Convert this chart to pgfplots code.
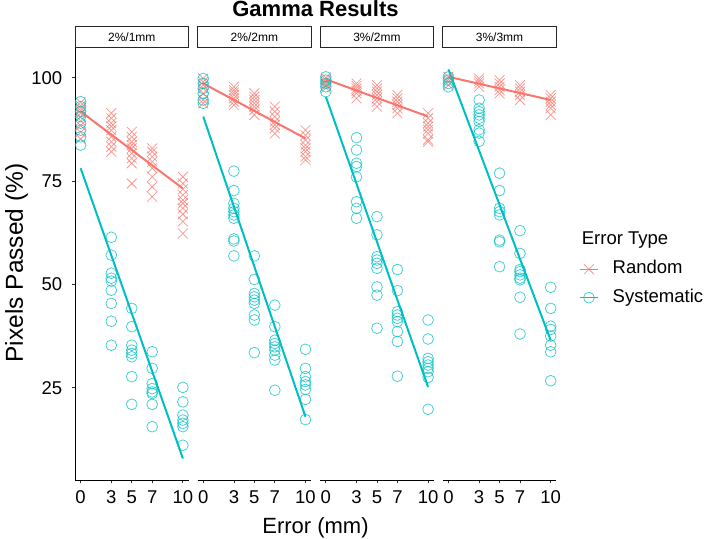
\documentclass[border=0pt]{standalone}
\usepackage{pgfplots}
\pgfplotsset{compat=1.18}
\usepackage{fontspec}
\setmainfont{Liberation Sans}
\definecolor{rcol}{HTML}{F8766D}
\definecolor{scol}{HTML}{00BFC4}
\pgfplotsset{
  panel/.style={
    width=113.5pt, height=431.7pt, scale only axis,
    xmin=-0.55, xmax=10.55, ymin=2.7, ymax=107.1,
    axis x line*=bottom,
    axis line style={-, line width=0.9pt, black},
    xtick={0,3,5,7,10},
    tick align=outside, major tick length=3.3pt,
    tick style={line width=0.8pt, black!80},
    ticklabel style={font=\fontsize{18.5}{20}\selectfont, text=black},
    xticklabel style={yshift=-4pt},
    yticklabel style={xshift=-6pt},
    /pgf/number format/assume math mode=true,
    clip=false,
  },
  rmark/.style={only marks, mark=x, mark size=7pt, color=rcol, mark options={line width=0.75pt, draw opacity=0.75}},
  smark/.style={only marks, mark=o, mark size=5.4pt, color=scol, mark options={line width=0.75pt, draw opacity=0.75}},
  rline/.style={no marks, color=rcol, line width=2pt},
  sline/.style={no marks, color=scol, line width=2pt},
}
\tikzset{
  strip/.style={draw=black!85, line width=0.9pt, fill=white, minimum width=113.5pt, minimum height=21.6pt, inner sep=0pt, anchor=south, font=\fontsize{12}{14}\selectfont},
}
\begin{document}
\begin{tikzpicture}
\useasboundingbox (0,0) rectangle (709pt,538pt);

% ---------- panel 1: 2%/1mm ----------
\begin{axis}[panel, at={(75pt,58pt)}, anchor=south west,
  axis y line*=left, ytick={25,50,75,100}]
\addplot[rmark] coordinates {
 (0,94.0) (0,93.2) (0,92.6) (0,92.0) (0,91.4) (0,90.6) (0,89.6) (0,88.4) (0,86.8) (0,85.2)
 (3,91.4) (3,90.2) (3,89.0) (3,88.2) (3,87.3) (3,85.7) (3,84.5) (3,83.3) (3,82.1)
 (5,86.9) (5,85.7) (5,84.5) (5,83.7) (5,82.9) (5,81.7) (5,80.5) (5,79.3) (5,74.4)
 (7,82.9) (7,82.1) (7,80.9) (7,79.7) (7,78.1) (7,76.0) (7,73.6) (7,71.2)
 (10,76.0) (10,74.4) (10,73.0) (10,71.6) (10,70.4) (10,69.6) (10,68.4) (10,67.0) (10,65.2) (10,62.3)};
\addplot[smark] coordinates {
 (0,94.2) (0,93.0) (0,91.8) (0,90.6) (0,89.0) (0,87.3) (0,85.7) (0,83.7)
 (3,61.4) (3,57.1) (3,52.7) (3,51.5) (3,50.8) (3,48.6) (3,45.4) (3,41.1) (3,35.3)
 (5,44.2) (5,39.8) (5,35.3) (5,34.1) (5,33.3) (5,32.5) (5,27.7) (5,21.0)
 (7,33.7) (7,29.7) (7,26.0) (7,24.8) (7,24.0) (7,23.6) (7,21.0) (7,15.6)
 (10,25.1) (10,21.6) (10,18.4) (10,17.2) (10,16.4) (10,15.6) (10,11.1)};
\addplot[rline] coordinates {(0,91.8) (10,73.2)};
\addplot[sline] coordinates {(0,78.1) (10,7.9)};
\node[strip] at (rel axis cs:0.5,1) {2\%/1mm};
\end{axis}

% ---------- panel 2: 2%/2mm ----------
\begin{axis}[panel, at={(197.6pt,58pt)}, anchor=south west,
  axis y line=none, ytick=\empty]
\addplot[rmark] coordinates {
 (0,99.8) (0,99.0) (0,98.2) (0,97.4) (0,96.2) (0,94.6) (0,93.8)
 (3,97.8) (3,97.0) (3,96.4) (3,95.8) (3,95.0) (3,94.2) (3,93.4)
 (5,96.2) (5,95.4) (5,94.6) (5,93.8) (5,93.0) (5,92.2) (5,91.0)
 (7,93.0) (7,91.8) (7,90.6) (7,89.4) (7,88.6) (7,87.8) (7,86.5)
 (10,87.3) (10,86.1) (10,84.9) (10,83.7) (10,82.9) (10,82.1) (10,80.9) (10,80.1)};
\addplot[smark] coordinates {
 (0,99.8) (0,98.6) (0,97.4) (0,96.2) (0,94.6) (0,93.8)
 (3,77.4) (3,72.7) (3,69.6) (3,68.4) (3,67.6) (3,66.8) (3,66.0) (3,61.0) (3,60.5) (3,56.9)
 (5,56.9) (5,51.2) (5,47.8) (5,47.0) (5,46.2) (5,45.4) (5,42.6) (5,41.4) (5,33.5)
 (7,45.0) (7,39.8) (7,36.5) (7,35.7) (7,34.9) (7,34.1) (7,32.9) (7,31.7) (7,24.4)
 (10,34.3) (10,29.7) (10,27.7) (10,26.5) (10,25.7) (10,24.6) (10,22.2) (10,17.3)};
\addplot[rline] coordinates {(0,98.6) (10,85.3)};
\addplot[sline] coordinates {(0,90.6) (10,18.0)};
\node[strip] at (rel axis cs:0.5,1) {2\%/2mm};
\end{axis}

% ---------- panel 3: 3%/2mm ----------
\begin{axis}[panel, at={(320.2pt,58pt)}, anchor=south west,
  axis y line=none, ytick=\empty]
\addplot[rmark] coordinates {
 (0,100.0) (0,99.5) (0,99.0) (0,98.5) (0,98.0) (0,97.5)
 (3,98.6) (3,98.0) (3,97.4) (3,96.8) (3,96.2) (3,95.0)
 (5,98.2) (5,97.4) (5,96.6) (5,95.8) (5,95.0) (5,94.2) (5,93.0)
 (7,95.8) (7,95.0) (7,94.2) (7,93.4) (7,92.6) (7,91.4)
 (10,91.4) (10,90.2) (10,89.0) (10,88.2) (10,87.4) (10,86.5) (10,85.0) (10,84.5)};
\addplot[smark] coordinates {
 (0,100.2) (0,99.4) (0,98.6) (0,97.8) (0,96.6)
 (3,85.5) (3,82.5) (3,79.3) (3,78.5) (3,76.0) (3,70.0) (3,68.4) (3,66.0)
 (5,66.4) (5,62.0) (5,56.7) (5,55.9) (5,55.1) (5,53.9) (5,49.4) (5,47.4) (5,39.4)
 (7,53.6) (7,48.5) (7,43.4) (7,42.6) (7,41.8) (7,41.0) (7,38.6) (7,36.2) (7,27.8)
 (10,41.4) (10,36.8) (10,32.1) (10,31.3) (10,30.5) (10,29.7) (10,28.9) (10,27.5) (10,19.8)};
\addplot[rline] coordinates {(0,99.6) (10,90.6)};
\addplot[sline] coordinates {(0,95.4) (10,25.2)};
\node[strip] at (rel axis cs:0.5,1) {3\%/2mm};
\end{axis}

% ---------- panel 4: 3%/3mm ----------
\begin{axis}[panel, at={(442.8pt,58pt)}, anchor=south west,
  axis y line=none, ytick=\empty,
  legend image code/.code={\draw[mark repeat=2,mark phase=2,#1] plot coordinates {(0pt,0pt) (8.6pt,0pt) (17.2pt,0pt)};},
  legend style={at={(1.2062,0.5084)}, anchor=north west, draw=none, fill=none, inner sep=0pt,
    font=\fontsize{18.5}{22}\selectfont, row sep=11.4pt, column sep=14.7pt,
    nodes={inner sep=0pt, text height=13pt, text depth=4pt}},
  legend cell align=left]
\addplot[rmark, forget plot] coordinates {
 (0,100.2) (0,99.6) (0,99.0) (0,98.2)
 (3,99.8) (3,99.2) (3,98.6) (3,97.8)
 (5,99.4) (5,98.6) (5,97.8) (5,97.0) (5,96.2)
 (7,98.2) (7,97.4) (7,96.6) (7,95.8) (7,94.6)
 (10,95.8) (10,95.0) (10,94.2) (10,93.4) (10,92.6) (10,91.0)};
\addplot[smark, forget plot] coordinates {
 (0,100.2) (0,99.4) (0,98.6) (0,97.8)
 (3,94.6) (3,92.6) (3,91.8) (3,91.0) (3,90.2) (3,89.4) (3,87.4) (3,86.6) (3,84.6)
 (5,76.9) (5,72.7) (5,68.4) (5,67.6) (5,66.8) (5,60.7) (5,60.3) (5,54.3)
 (7,63.0) (7,57.5) (7,53.6) (7,53.1) (7,52.3) (7,51.5) (7,51.1) (7,46.9) (7,38.0)
 (10,49.3) (10,44.2) (10,39.9) (10,39.1) (10,37.5) (10,35.3) (10,33.7) (10,26.7)};
\addplot[rline, forget plot] coordinates {(0,100.2) (10,94.6)};
\addplot[sline, forget plot] coordinates {(0,102.0) (10,36.5)};
\node[strip] at (rel axis cs:0.5,1) {3\%/3mm};
\addlegendimage{rcol, line width=0.9pt, mark=x, mark size=7pt, mark options={line width=0.75pt, draw opacity=0.75}}
\addlegendentry{Random}
\addlegendimage{scol, line width=0.9pt, mark=o, mark size=5.4pt, mark options={line width=0.75pt, draw opacity=0.75}}
\addlegendentry{Systematic}
\end{axis}

\node[anchor=base, font=\bfseries\fontsize{22}{26}\selectfont] at (315.5pt,521pt) {Gamma Results};
\node[anchor=base, font=\fontsize{22}{26}\selectfont] at (315.5pt,4.7pt) {Error (mm)};
\node[rotate=90, anchor=base, font=\fontsize{24.5}{28}\selectfont] at (23pt,275pt) {Pixels Passed (\%)};
\node[anchor=base west, font=\fontsize{18.5}{22}\selectfont] at (578.3pt,293pt) {Error Type};
\end{tikzpicture}
\end{document}
